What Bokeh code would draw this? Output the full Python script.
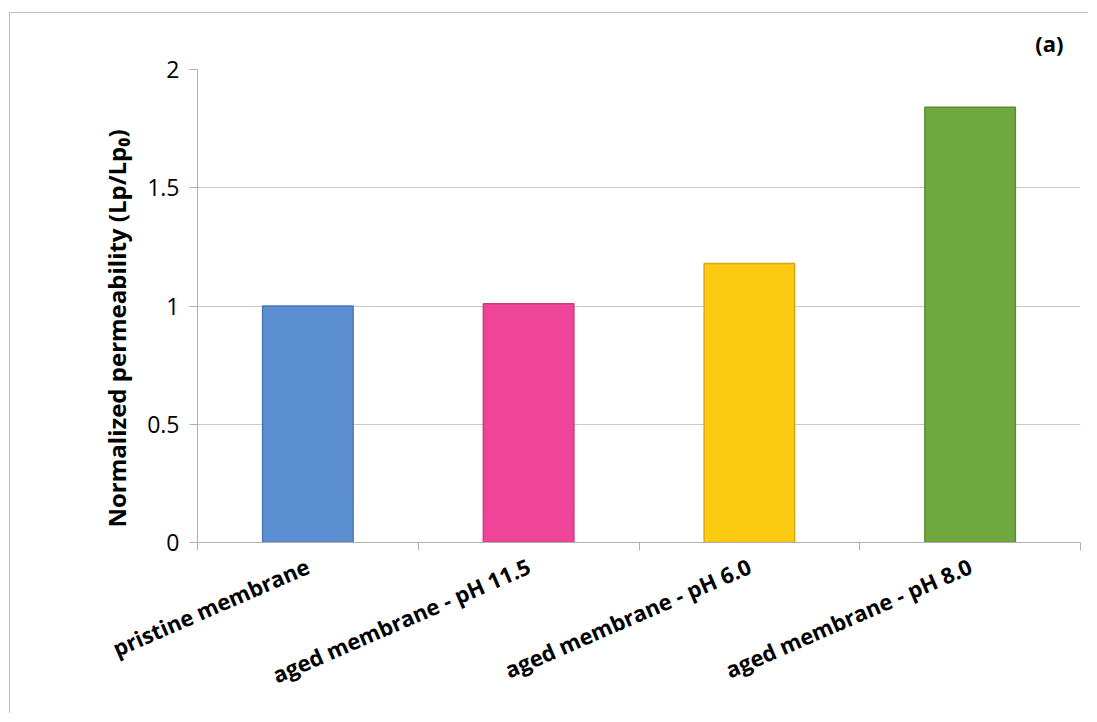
from bokeh.plotting import figure
from bokeh.models import FixedTicker, Range1d, Title
from bokeh.embed import file_html
from bokeh.resources import INLINE

categories = ["pristine membrane", "aged membrane - pH 11.5", "aged membrane - pH 6.0", "aged membrane - pH 8.0"]
values = [1.0, 1.01, 1.18, 1.84]
colors = ["#5b8fd2", "#ee4599", "#fdca12", "#6ea83f"]
edge_colors = ["#4a78b4", "#c93a82", "#d8a810", "#5a8c33"]
y_ticks = [0, 0.5, 1, 1.5, 2]
y_tick_labels = ["0", "0.5", "1", "1.5", "2"]
y_title = "Normalized permeability (Lp/Lp\u2080)"

x_pos = [i + 0.5 for i in range(len(categories))]

p = figure(width=1079, height=701, output_backend="svg", toolbar_location=None,
           x_range=Range1d(0, len(categories)), y_range=Range1d(0, 2),
           min_border_left=187, min_border_right=9, min_border_top=56, min_border_bottom=172)
p.styles = {"margin-left": "9px", "margin-top": "12px",
            "border-left": "1px solid #bdbdbd", "border-top": "1px solid #bdbdbd",
            "border-right": "none", "border-bottom": "none"}

p.vbar(x=x_pos, top=values, width=0.41, fill_color=colors, line_color=edge_colors, line_width=1.5)

font = "Open Sans"
p.background_fill_color = "white"
p.outline_line_color = None

# x axis
p.xaxis.ticker = FixedTicker(ticks=x_pos, minor_ticks=list(range(len(categories) + 1)))
p.xaxis.major_label_overrides = {x: c for x, c in zip(x_pos, categories)}
p.xaxis.major_tick_out = 0
p.xaxis.major_tick_in = 0
p.xaxis.minor_tick_out = 8
p.xaxis.minor_tick_in = 0
p.xaxis.minor_tick_line_color = "#b0b0b0"
p.xaxis.axis_line_color = "#b0b0b0"
p.xaxis.major_label_orientation = 0.41
p.xaxis.major_label_text_font = font
p.xaxis.major_label_text_font_style = "bold"
p.xaxis.major_label_text_font_size = "22px"
p.xaxis.major_label_text_color = "black"
p.xaxis.major_label_standoff = 14
p.xgrid.grid_line_color = None

# y axis
p.yaxis.ticker = FixedTicker(ticks=y_ticks)
p.yaxis.major_label_overrides = {t: l for t, l in zip(y_ticks, y_tick_labels)}
p.yaxis.minor_tick_line_color = None
p.yaxis.major_tick_out = 8
p.yaxis.major_tick_in = 0
p.yaxis.major_tick_line_color = "#b0b0b0"
p.yaxis.axis_line_color = "#b0b0b0"
p.yaxis.major_label_text_font = font
p.yaxis.major_label_text_font_size = "23px"
p.yaxis.major_label_text_color = "black"
p.yaxis.major_label_standoff = 10
p.ygrid.grid_line_color = "#c8c8c8"
p.ygrid.ticker = FixedTicker(ticks=y_ticks)

# y axis title, as a side title so it can start a little above the frame bottom
p.add_layout(Title(text=y_title, align="left", offset=15, standoff=24,
                   text_font=font, text_font_style="bold", text_font_size="24px",
                   text_color="black"), "left")

# panel label
p.title.text = "(a)"
p.title.align = "right"
p.title.text_font = font
p.title.text_font_style = "bold"
p.title.text_font_size = "22px"
p.title.text_color = "black"
p.title.offset = 17
p.title.standoff = 24

open("out.html", "w").write(file_html(p, INLINE))
